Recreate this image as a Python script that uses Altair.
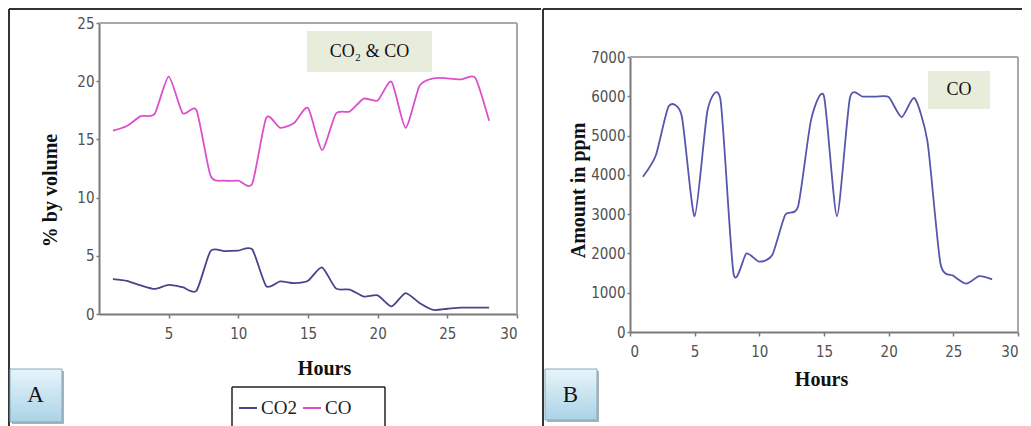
import altair as alt
import pandas as pd

# ---------------- data ----------------
hours = list(range(1, 29))

co2_pct = [3.0, 2.85, 2.45, 2.15, 2.5, 2.3, 2.0, 5.4, 5.4, 5.45, 5.55, 2.4, 2.8, 2.65,
           2.85, 4.0, 2.2, 2.1, 1.5, 1.6, 0.65, 1.8, 0.95, 0.35, 0.45, 0.55, 0.55, 0.55]
co_pct = [15.75, 16.15, 17.0, 17.2, 20.4, 17.25, 17.5, 11.9, 11.45, 11.45, 11.2, 16.85,
          16.0, 16.4, 17.7, 14.1, 17.2, 17.4, 18.5, 18.35, 19.95, 16.0, 19.6, 20.25,
          20.25, 20.15, 20.3, 16.6]
co_ppm = [3950, 4500, 5750, 5500, 2950, 5650, 5900, 1500, 2000, 1790, 1960, 2980, 3200,
          5400, 6000, 2950, 5950, 5990, 5990, 5980, 5470, 5950, 4850, 1750, 1430, 1230,
          1420, 1340]

series_order = ["CO2", "CO"]
series_colors = ["#46468a", "#dc4fcc"]
line_b_color = "#5656ad"

x_ticks_a = [5, 10, 15, 20, 25, 30]
x_ticks_b = [0, 5, 10, 15, 20, 25, 30]
y_ticks_a = [0, 5, 10, 15, 20, 25]
y_ticks_b = [0, 1000, 2000, 3000, 4000, 5000, 6000, 7000]

title_a = "CO\u2082 & CO"
title_b = "CO"
panel_a_label = "A"
panel_b_label = "B"

LABEL_FONT = "Liberation Sans Narrow, Arial Narrow, DejaVu Sans Condensed, sans-serif"
SERIF = "Liberation Serif, Times New Roman, serif"
FRAME = "#a8a8a8"

one = pd.DataFrame({"k": [0]})


def rule(x, x2, y, y2, color="#333333", w=2):
    return alt.Chart(one).mark_rule(color=color, strokeWidth=w).encode(
        x=alt.value(x), x2=alt.value(x2), y=alt.value(y), y2=alt.value(y2))


def box(x, x2, y, y2, fill, stroke=None, sw=1):
    kw = dict(fill=fill)
    if stroke:
        kw.update(stroke=stroke, strokeWidth=sw)
    return alt.Chart(one).mark_rect(**kw).encode(
        x=alt.value(x), x2=alt.value(x2), y=alt.value(y), y2=alt.value(y2))


def label(text, x, y, size, weight="normal", font=SERIF, color="#111111"):
    return alt.Chart(pd.DataFrame({"t": [text]})).mark_text(
        font=font, fontSize=size, fontWeight=weight, color=color,
        align="center", baseline="middle").encode(
        text="t:N", x=alt.value(x), y=alt.value(y))


blue_grad = alt.LinearGradient(
    gradient="linear",
    stops=[alt.GradientStop(color="#e8f4fa", offset=0),
           alt.GradientStop(color="#aad3e6", offset=1)],
    x1=0, x2=0, y1=0, y2=1)

# ---------------- panel A (plot area 418 x 291) ----------------
WA, HA = 418, 291
df_a = pd.DataFrame({
    "Hours": hours * 2,
    "value": co2_pct + co_pct,
    "series": ["CO2"] * len(hours) + ["CO"] * len(hours),
})

lines_a = alt.Chart(df_a).mark_line(
    interpolate="cardinal", tension=0.35, strokeWidth=1.8).encode(
    x=alt.X("Hours:Q", scale=alt.Scale(domain=[0, 30], nice=False),
            axis=alt.Axis(values=x_ticks_a, title="Hours", titleX=225, titleY=54,
                          titleAlign="center", titleBaseline="middle",
                          tickSize=4, labelPadding=8)),
    y=alt.Y("value:Q", scale=alt.Scale(domain=[0, 25], nice=False),
            axis=alt.Axis(values=y_ticks_a, title="% by volume", titleX=-49, titleY=167,
                          titleAlign="center", titleBaseline="middle",
                          tickSize=3, labelPadding=2)),
    color=alt.Color("series:N",
                    scale=alt.Scale(domain=series_order, range=series_colors),
                    sort=series_order,
                    legend=alt.Legend(title=None, orient="none", legendX=139, legendY=375,
                                      direction="horizontal", symbolType="stroke",
                                      symbolSize=324, symbolStrokeWidth=2,
                                      labelFont=SERIF, labelFontSize=19,
                                      labelColor="#222222", labelOffset=3,
                                      columnPadding=2, padding=0)),
)

panel_a = alt.layer(
    rule(-90, 442, -14, -14),
    rule(-90, -90, -14, 403),
    rule(0, WA, 0, 0, color=FRAME),
    rule(WA, WA, 0, HA, color=FRAME),
    box(-87, -35, 348, 401, "#aab4b8"),
    box(-89, -37, 346, 399, blue_grad, stroke="#86aabb"),
    label(panel_a_label, -63.5, 372, 23),
    box(208, 333, 8, 49, "#e7ecdb"),
    label(title_a, 270.5, 29, 18),
    rule(133, 133, 364, 403, color="#222222", w=1.5),
    rule(133, 286, 364, 364, color="#222222", w=1.5),
    rule(286, 286, 364, 403, color="#222222", w=1.5),
    lines_a,
).properties(width=WA, height=HA)

# ---------------- panel B (view 388 x 309, plot rows 34..309) ----------------
WB, HB, TOPB = 388, 309, 34
df_b = pd.DataFrame({"Hours": hours, "ppm": co_ppm})

line_b = alt.Chart(df_b).mark_line(
    interpolate="cardinal", tension=0.35, strokeWidth=1.8, color=line_b_color).encode(
    x=alt.X("Hours:Q", scale=alt.Scale(domain=[0, 30], nice=False),
            axis=alt.Axis(values=x_ticks_b, title="Hours", titleX=191, titleY=47,
                          titleAlign="center", titleBaseline="middle",
                          tickSize=4, labelPadding=8)),
    y=alt.Y("ppm:Q", scale=alt.Scale(domain=[0, 7000], nice=False, range=[HB, TOPB]),
            axis=alt.Axis(values=y_ticks_b, format="d", title="Amount in ppm",
                          titleX=-52, titleY=167,
                          titleAlign="center", titleBaseline="middle",
                          tickSize=3, labelPadding=2)),
)

panel_b = alt.layer(
    rule(-87, 392, -14, -14),
    rule(-87, -87, -14, 403),
    rule(0, WB, TOPB, TOPB, color=FRAME),
    rule(WB, WB, TOPB, HB, color=FRAME),
    box(-83, -31, 348, 399, "#aab4b8"),
    box(-85, -33, 346, 397, blue_grad, stroke="#86aabb"),
    label(panel_b_label, -59.5, 372, 23),
    box(298, 360, 48, 86, "#e7ecdb"),
    label(title_b, 329, 67, 18),
    line_b,
).properties(width=WB, height=HB)

chart = alt.hconcat(panel_a, panel_b, spacing=0).properties(
    padding=0, background="white"
).configure_view(
    strokeWidth=0
).configure_axis(
    grid=False,
    labelFont=LABEL_FONT, labelFontSize=15, labelColor="#505050",
    domainColor="#7a7a7a", domainWidth=2,
    tickColor="#7a7a7a", tickWidth=1.5,
    titleFont=SERIF, titleFontSize=20, titleFontWeight="bold", titleColor="#111111",
)

chart.save("out.html", embed_options={"renderer": "svg", "actions": False})
